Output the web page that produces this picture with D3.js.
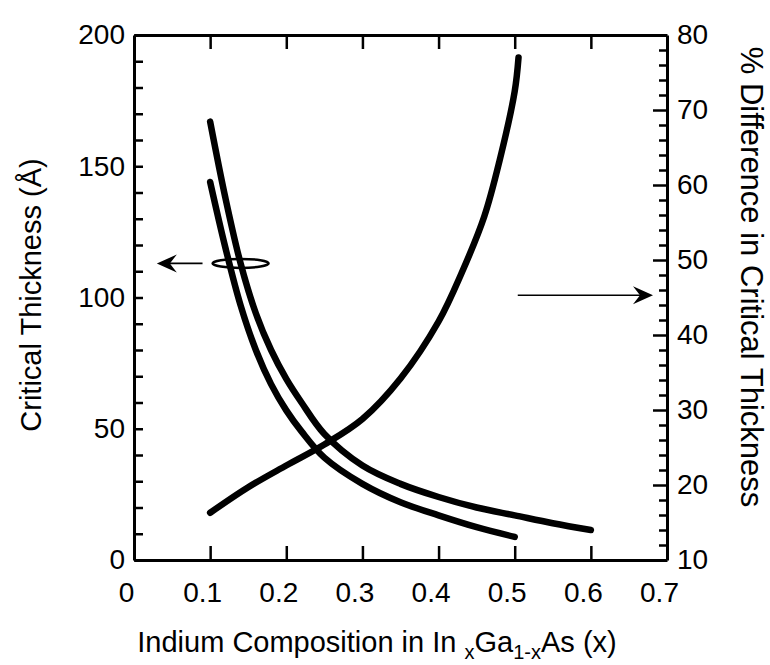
<!DOCTYPE html>
<html>
<head>
<meta charset="utf-8">
<script src="https://cdn.jsdelivr.net/npm/d3@7"></script>
<style>
  body { margin: 0; background: #fff; }
  svg text { font-family: "Liberation Sans", Arial, sans-serif; fill: #000; }
</style>
</head>
<body>
<svg id="chart" width="770" height="665"></svg>
<script>
// curve A: critical thickness, runs out to x = 0.6
const xA = [0.1, 0.12, 0.14, 0.16, 0.18, 0.2, 0.22, 0.25, 0.3, 0.35, 0.4, 0.45, 0.5, 0.55, 0.6]
const thickA = [167, 138, 113, 94, 80, 69, 60, 48, 36, 29, 24, 20, 17, 14, 11.4]
// curve B: critical thickness, stops at x = 0.5
const xB = [0.1, 0.12, 0.14, 0.16, 0.18, 0.2, 0.22, 0.25, 0.3, 0.35, 0.4, 0.45, 0.5]
const thickB = [144, 119, 97, 80, 67, 57, 49, 39, 29, 22, 17, 12.5, 8.8]
// % difference (right axis)
const xD = [0.1, 0.15, 0.2, 0.25, 0.3, 0.35, 0.4, 0.43, 0.46, 0.48, 0.5, 0.505]
const diffD = [16.3, 19.7, 22.6, 25.4, 28.8, 34.2, 41.8, 48.2, 55.8, 63.2, 72.5, 77]

const xTicks = [0, 0.1, 0.2, 0.3, 0.4, 0.5, 0.6, 0.7]
const leftTicks = d3.range(0, 201, 10)
const rightTicks = d3.range(10, 81, 2)

const svg = d3.select("#chart")
const plotLeft = 134, plotRight = 667, plotTop = 35, plotBottom = 560

const x = d3.scaleLinear().domain([0, 0.7]).range([plotLeft, plotRight])
const yL = d3.scaleLinear().domain([0, 200]).range([plotBottom, plotTop])
const yR = d3.scaleLinear().domain([10, 80]).range([plotBottom, plotTop])

const styleAxis = (g) => {
    g.select(".domain").attr("stroke", "#000").attr("stroke-width", 3)
    g.selectAll(".tick line").attr("stroke", "#000").attr("stroke-width", 2.5)
    g.selectAll(".tick text").style("font-size", "28px").attr("fill", "#000")
}

// bottom axis
svg.append("g")
    .attr("transform", `translate(0,${plotBottom})`)
    .call(d3.axisBottom(x).tickValues(xTicks).tickSize(-14).tickSizeOuter(0).tickPadding(22)
        .tickFormat(d => d === 0 ? "0" : d.toFixed(1)))
    .call(styleAxis)
    .call(g => g.selectAll(".tick text").attr("dx", -8))

// top axis, ticks only
svg.append("g")
    .attr("transform", `translate(0,${plotTop})`)
    .call(d3.axisTop(x).tickValues(xTicks.slice(1, 7)).tickSize(-14).tickSizeOuter(0).tickFormat(""))
    .call(styleAxis)

// left axis
svg.append("g")
    .attr("transform", `translate(${plotLeft},0)`)
    .call(d3.axisLeft(yL).tickValues(leftTicks).tickSize(-9).tickSizeOuter(0).tickPadding(9)
        .tickFormat(d => d % 50 === 0 ? d : ""))
    .call(styleAxis)

// right axis
svg.append("g")
    .attr("transform", `translate(${plotRight},0)`)
    .call(d3.axisRight(yR).tickValues(rightTicks).tickSize(-8).tickSizeOuter(0).tickPadding(10)
        .tickFormat(d => d % 10 === 0 ? d : ""))
    .call(styleAxis)
    .call(g => g.selectAll(".tick line").attr("x2", d => d % 10 === 0 ? -14 : -8))

// curves
const lineL = d3.line().x(d => x(d[0])).y(d => yL(d[1])).curve(d3.curveCatmullRom.alpha(0.5))
const lineR = d3.line().x(d => x(d[0])).y(d => yR(d[1])).curve(d3.curveCatmullRom.alpha(0.5))

const curves = [
    lineL(d3.zip(xA, thickA)),
    lineL(d3.zip(xB, thickB)),
    lineR(d3.zip(xD, diffD))
]
svg.selectAll("path.curve")
    .data(curves)
    .enter().append("path")
    .attr("class", "curve")
    .attr("d", d => d)
    .attr("fill", "none")
    .attr("stroke", "#000")
    .attr("stroke-width", 6.5)
    .attr("stroke-linecap", "round")

// ellipse grouping the two thickness curves, arrow to the left axis
const ey = yL(113)
svg.append("ellipse")
    .attr("cx", x(0.14)).attr("cy", ey)
    .attr("rx", 28).attr("ry", 4.5)
    .attr("fill", "none").attr("stroke", "#000").attr("stroke-width", 2.5)

const arrowHead = (tipX, tipY, dir) => {
    // barbed head, dir = -1 points left, +1 points right
    const p = [[tipX, tipY], [tipX - dir * 20, tipY - 9], [tipX - dir * 13, tipY],
        [tipX - dir * 20, tipY + 9]]
    return "M" + p.map(q => q.join(",")).join("L") + "Z"
}

const lx0 = x(0.03), lx1 = x(0.09)
svg.append("line")
    .attr("x1", lx0 + 12).attr("x2", lx1).attr("y1", ey).attr("y2", ey)
    .attr("stroke", "#000").attr("stroke-width", 1.8)
svg.append("path").attr("d", arrowHead(lx0, ey, -1)).attr("fill", "#000")

const ry = yR(45.3)
const rx0 = x(0.504), rx1 = plotRight - 14
svg.append("line")
    .attr("x1", rx0).attr("x2", rx1 - 12).attr("y1", ry).attr("y2", ry)
    .attr("stroke", "#000").attr("stroke-width", 1.5)
svg.append("path").attr("d", arrowHead(rx1, ry, 1)).attr("fill", "#000")

// axis titles
svg.append("text")
    .attr("transform", `translate(41,295) rotate(-90)`)
    .attr("text-anchor", "middle")
    .style("font-size", "29px")
    .text("Critical Thickness (Å)")

svg.append("text")
    .attr("transform", `translate(741,277) rotate(90)`)
    .attr("text-anchor", "middle")
    .style("font-size", "31px")
    .text("% Difference in Critical Thickness")

const xt = svg.append("text")
    .attr("x", 377).attr("y", 652)
    .attr("text-anchor", "middle")
    .style("font-size", "29px")
xt.append("tspan").text("Indium Composition in In  ")
xt.append("tspan").attr("dy", 7).style("font-size", "20px").text("x")
xt.append("tspan").attr("dy", -7).text("Ga")
xt.append("tspan").attr("dy", 7).style("font-size", "20px").text("1-x")
xt.append("tspan").attr("dy", -7).text("As (x)")
</script>
</body>
</html>
